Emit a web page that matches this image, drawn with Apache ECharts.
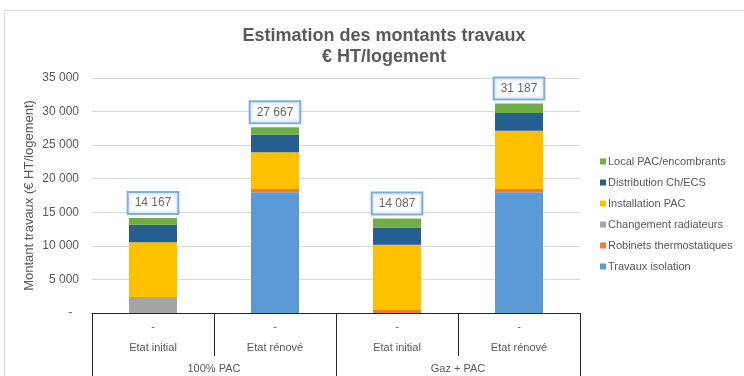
<!DOCTYPE html>
<html>
<head>
<meta charset="utf-8">
<script src="https://cdn.jsdelivr.net/npm/echarts@6/dist/echarts.min.js"></script>
<style>
  html, body { margin: 0; padding: 0; background: #fff; }
  #chart { width: 744px; height: 376px; }
</style>
</head>
<body>
<div id="chart"></div>
<script>
// Scenarios (bottom axis, two levels)
const groups = ['100% PAC', 'Gaz + PAC'];
const states = ['Etat initial', 'Etat rénové', 'Etat initial', 'Etat rénové'];

// Cost components in € HT per dwelling, stacked bottom to top
const travauxIsolation = [0, 18000, 0, 18000];
const robinetsThermo = [0, 450, 450, 450];
const changementRadiateurs = [2400, 0, 0, 0];
const installationPac = [8150, 5500, 9700, 8700];
const distributionChEcs = [2600, 2600, 2600, 2650];
const localPac = [1017, 1117, 1337, 1387];

const yTicks = { min: 0, max: 35000, interval: 5000 };

const components = [
  { name: 'Travaux isolation', data: travauxIsolation, color: '#5b9bd5' },
  { name: 'Robinets thermostatiques', data: robinetsThermo, color: '#ed7d31' },
  { name: 'Changement radiateurs', data: changementRadiateurs, color: '#a5a5a5' },
  { name: 'Installation PAC', data: installationPac, color: '#ffc000' },
  { name: 'Distribution Ch/ECS', data: distributionChEcs, color: '#255e91' },
  { name: 'Local PAC/encombrants', data: localPac, color: '#70ad47' }
];

const totals = states.map((_, i) => components.reduce((s, c) => s + c.data[i], 0));

function fmt(v) {
  return String(Math.round(v)).replace(/\B(?=(\d{3})+(?!\d))/g, ' ');
}

const txt = '#595959';
const chart = echarts.init(document.getElementById('chart'));

const series = components.map(c => ({
  name: c.name,
  type: 'bar',
  stack: 'total',
  barWidth: 48,
  itemStyle: { color: c.color },
  emphasis: { disabled: true },
  data: c.data
}));

series.push({
  name: 'Total',
  type: 'scatter',
  symbolSize: 0,
  silent: true,
  data: totals,
  label: {
    show: true,
    position: 'top',
    distance: 5,
    formatter: p => fmt(p.value),
    color: '#404040',
    fontSize: 12,
    fontFamily: 'Liberation Sans, Arial, sans-serif',
    backgroundColor: '#fff',
    borderColor: '#5b9bd5',
    borderWidth: 2,
    padding: [3, 6],
    lineHeight: 14
  }
});

chart.setOption({
  animation: false,
  textStyle: { fontFamily: 'Liberation Sans, Arial, sans-serif' },
  graphic: [{
    type: 'rect',
    shape: { x: 4.5, y: 10.5, width: 800, height: 400 },
    style: { fill: 'none', stroke: '#d9d9d9', lineWidth: 1 },
    silent: true,
    z: -10
  }],
  title: {
    text: 'Estimation des montants travaux\n€ HT/logement',
    left: 379,
    textAlign: 'center',
    top: 21,
    textStyle: { fontSize: 18, fontWeight: 'bold', color: txt, lineHeight: 21 }
  },
  legend: {
    orient: 'vertical',
    left: 595,
    top: 151,
    itemWidth: 6,
    itemHeight: 6,
    itemGap: 10,
    icon: 'rect',
    textStyle: { fontSize: 11, color: txt, padding: [0, 0, 0, -3] },
    data: components.map(c => c.name).reverse()
  },
  grid: { left: 92, right: 164, top: 78, bottom: 61, containLabel: false },
  xAxis: [{
    type: 'category',
    data: states,
    axisLine: { lineStyle: { color: '#262626', width: 1 } },
    axisTick: { show: true, length: 43, lineStyle: { color: '#262626' } },
    axisLabel: {
      formatter: v => '-\n' + v,
      fontSize: 11,
      lineHeight: 21,
      margin: 3,
      color: txt
    }
  }, {
    type: 'category',
    data: groups,
    position: 'bottom',
    axisLine: { show: false },
    axisTick: { show: true, length: 70, lineStyle: { color: '#262626' } },
    axisLabel: { fontSize: 11, lineHeight: 14, margin: 49, color: txt }
  }],
  yAxis: {
    type: 'value',
    min: yTicks.min,
    max: yTicks.max,
    interval: yTicks.interval,
    name: 'Montant travaux (€ HT/logement)',
    nameLocation: 'middle',
    nameGap: 56,
    nameMoveOverlap: false,
    nameTextStyle: { fontSize: 13, color: txt },
    axisLine: { show: false },
    axisTick: { show: false },
    splitLine: { lineStyle: { color: '#d9d9d9' } },
    axisLabel: {
      fontSize: 12,
      color: txt,
      margin: 13,
      formatter: v => v === 0 ? '-\u00a0\u00a0' : fmt(v)
    }
  },
  series: series
});
</script>
</body>
</html>
